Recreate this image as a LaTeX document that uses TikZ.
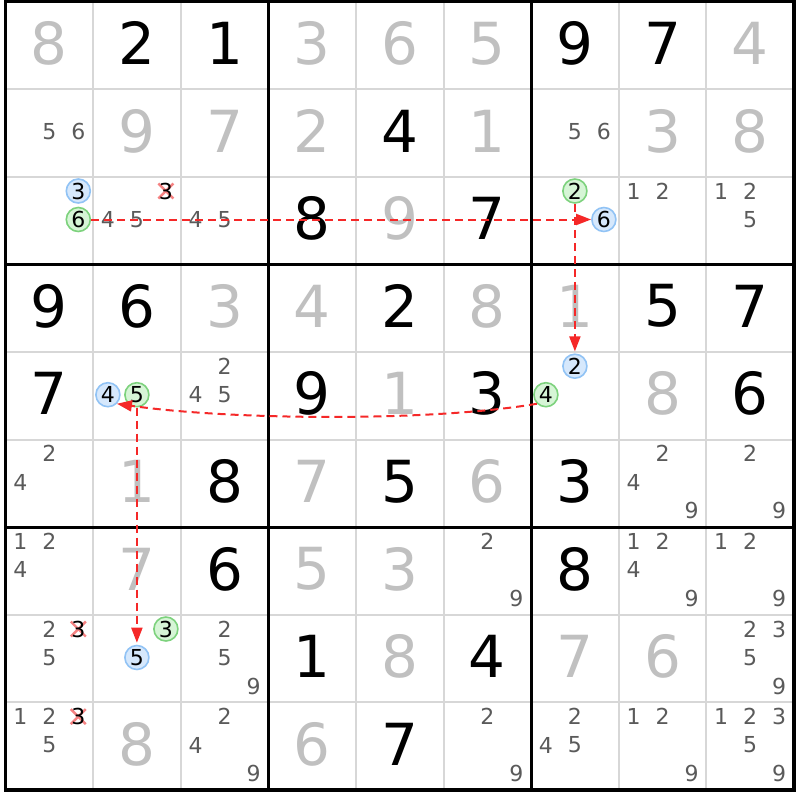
\documentclass[tikz,border=0pt]{standalone}
\usepackage{fontspec}
\setmainfont{DejaVu Sans}
\usetikzlibrary{arrows.meta}
\definecolor{solved}{RGB}{192,192,192}
\definecolor{candc}{RGB}{90,90,90}
\definecolor{thinc}{RGB}{215,215,215}
\definecolor{linkred}{RGB}{245,40,40}
\definecolor{bfill}{RGB}{214,232,252}
\definecolor{bdraw}{RGB}{145,195,245}
\definecolor{gfill}{RGB}{214,245,214}
\definecolor{gdraw}{RGB}{125,210,125}
\definecolor{xred}{RGB}{245,130,130}
\pgfdeclarelayer{back}
\pgfdeclarelayer{xl}
\pgfsetlayers{back,xl,main}
\newcommand\xo{5.5}
\newcommand\yo{1.5}
\newcommand\cs{87.6}
\newcommand\ddx{29}
\newcommand\ddy{28.5}
\tikzset{
 big/.style={inner sep=0pt, font=\fontsize{58}{58}\selectfont},
 given/.style={big, text=black},
 solvedd/.style={big, text=solved},
 cand/.style={inner sep=0pt, font=\fontsize{22}{22}\selectfont, text=candc},
 cblue/.style={cand, text=black, circle, draw=bdraw, fill=bfill, line width=1.6pt, minimum size=24pt},
 cgreen/.style={cblue, draw=gdraw, fill=gfill},
 celim/.style={cand, text=black},
 xmark/.style={draw=xred, line width=2.4pt},
 link/.style={draw=linkred, line width=2pt, dash pattern=on 8pt off 5pt, -{Triangle[length=15pt,width=11pt]}},
 thinline/.style={draw=thinc, line width=2pt},
 thickline/.style={draw=black, line width=3.2pt},
}
\newcommand\dig[4]{%
 \pgfmathsetmacro\px{\xo+(#3-0.5)*\cs}%
 \pgfmathsetmacro\py{\yo+(#2-0.5)*\cs-2}%
 \node[#1] (d#2#3) at (\px,\py) {#4};}
\newcommand\cnd[4]{%
 \pgfmathsetmacro\px{\xo+(#3-0.5)*\cs+(mod(#4-1,3)-1)*\ddx}%
 \pgfmathsetmacro\py{\yo+(#2-0.5)*\cs-1+(int((#4-1)/3)-1)*\ddy}%
 \node[#1] (c#2#3#4) at (\px,\py) {#4};}
\newcommand\cands[3]{\foreach \dd in {#3} {\cnd{cand}{#1}{#2}{\dd}}}
\begin{document}
\begin{tikzpicture}[x=1pt,y=-1pt]
\begin{pgfonlayer}{back}
\fill[white] (0,0) rectangle (800,800);
\end{pgfonlayer}
\useasboundingbox (0,0) rectangle (800,800);
% grid
\foreach \i in {1,2,4,5,7,8} {
  \draw[thinline] ({\xo+\i*\cs},\yo) -- ({\xo+\i*\cs},{\yo+9*\cs});
  \draw[thinline] (\xo,{\yo+\i*\cs}) -- ({\xo+9*\cs},{\yo+\i*\cs});
}
\foreach \i in {3,6} {
  \draw[thickline] ({\xo+\i*\cs},\yo) -- ({\xo+\i*\cs},{\yo+9*\cs});
  \draw[thickline] (\xo,{\yo+\i*\cs}) -- ({\xo+9*\cs},{\yo+\i*\cs});
}
\draw[thickline] (\xo,\yo) rectangle ({\xo+9*\cs},{\yo+9*\cs});
% given digits
\foreach \r/\c/\v in {1/2/2,1/3/1,1/7/9,1/8/7,2/5/4,3/4/8,3/6/7,4/1/9,4/2/6,4/5/2,4/8/5,4/9/7,
  5/1/7,5/4/9,5/6/3,5/9/6,6/3/8,6/5/5,6/7/3,7/3/6,7/7/8,8/4/1,8/6/4,9/5/7}
  {\dig{given}{\r}{\c}{\v}}
% solved digits
\foreach \r/\c/\v in {1/1/8,1/4/3,1/5/6,1/6/5,1/9/4,2/2/9,2/3/7,2/4/2,2/6/1,2/8/3,2/9/8,3/5/9,
  4/3/3,4/4/4,4/6/8,4/7/1,5/5/1,5/8/8,6/2/1,6/4/7,6/6/6,7/2/7,7/4/5,7/5/3,8/5/8,8/7/7,8/8/6,9/2/8,9/4/6}
  {\dig{solvedd}{\r}{\c}{\v}}
% candidates
\cands{2}{1}{5,6}
\cands{2}{7}{5,6}
\cnd{cblue}{3}{1}{3}
\cnd{cgreen}{3}{1}{6}
\cnd{celim}{3}{2}{3}
\cands{3}{2}{4,5}
\cands{3}{3}{4,5}
\cnd{cgreen}{3}{7}{2}
\cnd{cblue}{3}{7}{6}
\cands{3}{8}{1,2}
\cands{3}{9}{1,2,5}
\cnd{cblue}{5}{2}{4}
\cnd{cgreen}{5}{2}{5}
\cands{5}{3}{2,4,5}
\cnd{cblue}{5}{7}{2}
\cnd{cgreen}{5}{7}{4}
\cands{6}{1}{2,4}
\cands{6}{8}{2,4,9}
\cands{6}{9}{2,9}
\cands{7}{1}{1,2,4}
\cands{7}{6}{2,9}
\cands{7}{8}{1,2,4,9}
\cands{7}{9}{1,2,9}
\cands{8}{1}{2,5}
\cnd{celim}{8}{1}{3}
\cnd{cgreen}{8}{2}{3}
\cnd{cblue}{8}{2}{5}
\cands{8}{3}{2,5,9}
\cands{8}{9}{2,3,5,9}
\cands{9}{1}{1,2,5}
\cnd{celim}{9}{1}{3}
\cands{9}{3}{2,4,9}
\cands{9}{6}{2,9}
\cands{9}{7}{2,4,5}
\cands{9}{8}{1,2,9}
\cands{9}{9}{1,2,3,5,9}
% eliminations
\begin{pgfonlayer}{xl}
\foreach \n in {c323,c813,c913} {
  \draw[xmark] ([shift={(-7.5,-7.5)}]\n.center) -- ([shift={(7.5,7.5)}]\n.center);
  \draw[xmark] ([shift={(-7.5,7.5)}]\n.center) -- ([shift={(7.5,-7.5)}]\n.center);
}
\end{pgfonlayer}
% links
\draw[link] (c316) -- (c376);
\draw[link, shorten >=2pt] (c372) -- (c572);
\draw[link] (c574.225) .. controls (430,422) and (230,420) .. (c524.-45);
\draw[link, shorten >=2pt] (c525) -- (c825);
\end{tikzpicture}
\end{document}
